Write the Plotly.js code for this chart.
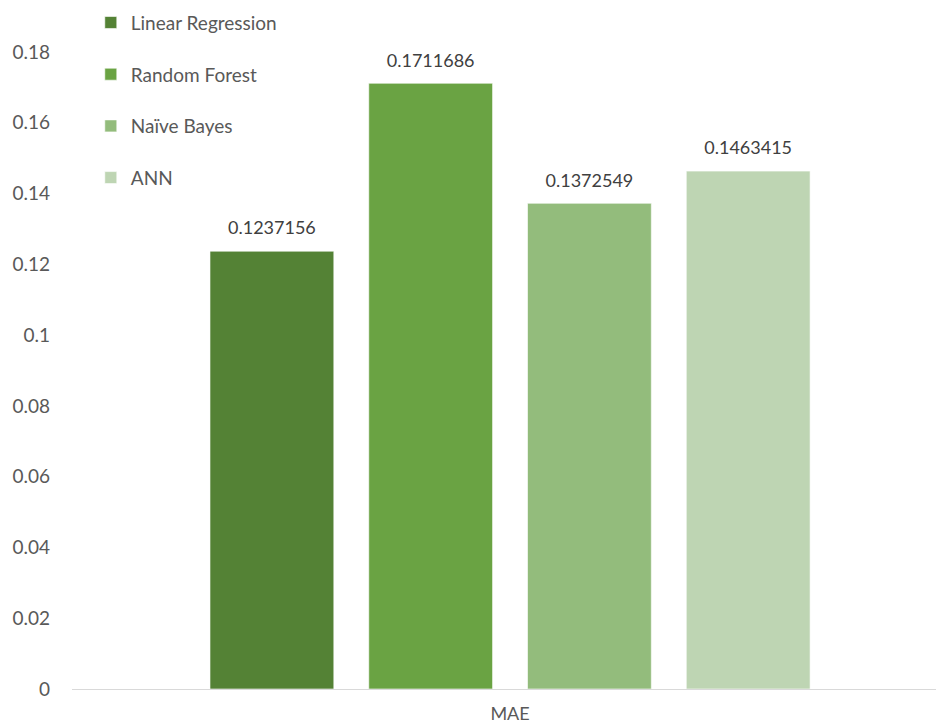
<!DOCTYPE html>
<html>
<head>
<meta charset="utf-8">
<script src="https://cdn.plot.ly/plotly-3.0.1.min.js"></script>
<style>html,body{margin:0;padding:0;background:#fff;}#chart{width:936px;height:726px;}</style>
</head>
<body>
<div id="chart"></div>
<script>
const category = ['MAE'];
const models = ['Linear Regression', 'Random Forest', 'Naïve Bayes', 'ANN'];
const maeValues = [0.1237156, 0.1711686, 0.1372549, 0.1463415];
const colors = ['#548235', '#6AA343', '#93BC7C', '#BED5B3'];
const yTicks = [0, 0.02, 0.04, 0.06, 0.08, 0.1, 0.12, 0.14, 0.16, 0.18];
const yTickText = ['0', '0.02', '0.04', '0.06', '0.08', '0.1', '0.12', '0.14', '0.16', '0.18'];

const FONT = 'Lato, "Open Sans", sans-serif';

const traces = models.map((m, i) => ({
  type: 'bar',
  name: m,
  x: category,
  y: [maeValues[i]],
  text: [maeValues[i].toFixed(7)],
  textposition: 'outside',
  texttemplate: '<span style="font-size:18px">%{text}</span><br>&nbsp;',
  cliponaxis: false,
  textfont: {family: FONT, size: 9, color: '#404040'},
  marker: {color: colors[i], line: {color: 'rgba(255,255,255,0.6)', width: 1}},
  legendgroup: 'g' + i,
  hoverinfo: 'skip'
}));

const layout = {
  width: 936,
  height: 726,
  paper_bgcolor: '#ffffff',
  plot_bgcolor: '#ffffff',
  margin: {l: 72, r: 0, t: 52, b: 37, autoexpand: false},
  font: {family: FONT, size: 18, color: '#595959'},
  barmode: 'group',
  bargap: 0.265,
  bargroupgap: 0.22,
  showlegend: true,
  legend: {
    xref: 'container', yref: 'container',
    x: 0.097, y: 0.995,
    xanchor: 'left', yanchor: 'top',
    traceorder: 'grouped',
    tracegroupgap: 24,
    font: {family: FONT, size: 19, color: '#595959'},
    bgcolor: 'rgba(0,0,0,0)'
  },
  xaxis: {
    type: 'category',
    range: [-0.507, 0.493],
    showline: true,
    linecolor: '#d9d9d9',
    linewidth: 1,
    showgrid: false,
    zeroline: false,
    ticks: '',
    ticklabelstandoff: 8,
    tickfont: {family: FONT, size: 18, color: '#595959'},
    fixedrange: true
  },
  yaxis: {
    range: [0, 0.18],
    tickvals: yTicks,
    ticktext: yTickText,
    showgrid: false,
    zeroline: false,
    showline: false,
    ticks: '',
    ticklabelstandoff: 21,
    tickfont: {family: FONT, size: 19, color: '#595959'},
    fixedrange: true
  }
};

Plotly.newPlot('chart', traces, layout, {displayModeBar: false, staticPlot: true});
</script>
</body>
</html>
